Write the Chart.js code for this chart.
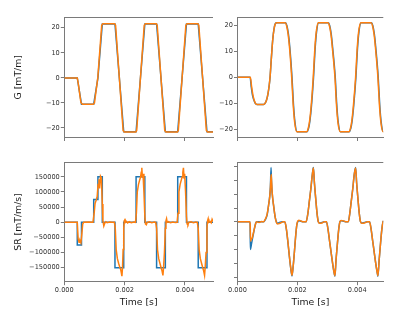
<!DOCTYPE html>
<html><head><meta charset="utf-8">
<script src="https://cdn.jsdelivr.net/npm/chart.js@4.4.1/dist/chart.umd.min.js"></script>
<style>
html,body{margin:0;padding:0;background:#fff;}
body{width:400px;height:317px;position:relative;overflow:hidden;}
canvas{position:absolute;left:0;top:0;}
</style></head>
<body>
<canvas id="tl" width="400" height="317"></canvas>
<canvas id="tr" width="400" height="317"></canvas>
<canvas id="bl" width="400" height="317"></canvas>
<canvas id="br" width="400" height="317"></canvas>
<script>
// ---------- tick labels ----------
const timeTicks = [0, 0.002, 0.004];
const gTicks = [-20, -10, 0, 10, 20];
const srTicksLeft = [-150000, -100000, -50000, 0, 50000, 100000, 150000];
const srTicksRight = [-200000, -150000, -100000, -50000, 0, 50000, 100000, 150000, 200000];

// ---------- top-left: G, trapezoid ----------
const tGL_blue = [0, 0.00043, 0.00057, 0.000975, 0.001115, 0.00126, 0.00168, 0.00197, 0.00238, 0.00267, 0.00306, 0.00335, 0.00376, 0.00405, 0.00444, 0.00473, 0.00495];
const gL_blue = [0, 0, -10.5, -10.5, 0, 21.5, 21.5, -21.5, -21.5, 21.5, 21.5, -21.5, -21.5, 21.5, 21.5, -21.5, -21.5];
const tGL_orange = [0, 0.00043, 0.00046, 0.00055, 0.00060, 0.00096, 0.00100, 0.00111, 0.00124, 0.00128, 0.00167, 0.00170, 0.00195, 0.00199, 0.00237, 0.00240, 0.00265, 0.00269, 0.00305, 0.00308, 0.00333, 0.00337, 0.00375, 0.00378, 0.00403, 0.00407, 0.00443, 0.00446, 0.00471, 0.00475, 0.00495];
const gL_orange = [0, 0, -2, -9.8, -10.5, -10.5, -10, 0, 21, 21.6, 21.6, 21, -21, -21.6, -21.6, -21, 21, 21.6, 21.6, 21, -21, -21.6, -21.6, -21, 21, 21.6, 21.6, 21, -21, -21.6, -21.6];

// ---------- bottom-left: SR, steps ----------
const tSRL_blue = [0, 0.00043, 0.00043, 0.00057, 0.00057, 0.000975, 0.000975, 0.001115, 0.001115, 0.00126, 0.00126, 0.00168, 0.00168, 0.00197, 0.00197, 0.00238, 0.00238, 0.00267, 0.00267, 0.00306, 0.00306, 0.00335, 0.00335, 0.00376, 0.00376, 0.00405, 0.00405, 0.00444, 0.00444, 0.00473, 0.00473, 0.00495];
const srL_blue = [0, 0, -75000, -75000, 0, 0, 75000, 75000, 150000, 150000, 0, 0, -150000, -150000, 0, 0, 150000, 150000, 0, 0, -150000, -150000, 0, 0, 150000, 150000, 0, 0, -150000, -150000, 0, 0];
const tSRL_orange = [0, 0.00030, 0.00043, 0.00046, 0.00049, 0.00052, 0.00055, 0.00058, 0.00061, 0.00064, 0.00080, 0.00095, 0.00099, 0.00102, 0.00106, 0.00109, 0.00112, 0.00115, 0.00117, 0.00120, 0.00123, 0.00126, 0.00128, 0.00131, 0.00134, 0.00138, 0.00142, 0.00150, 0.00160, 0.00166, 0.00169, 0.00172, 0.00176, 0.00180, 0.00184, 0.00187, 0.00189, 0.00191, 0.00193, 0.00195, 0.00197, 0.00199, 0.00201, 0.00203, 0.00206, 0.00210, 0.00215, 0.00222, 0.00230, 0.00236, 0.00239, 0.00242, 0.00246, 0.00250, 0.00253, 0.00255, 0.00257, 0.00259, 0.00261, 0.00264, 0.00267, 0.00269, 0.00272, 0.00275, 0.00282, 0.00290, 0.00298, 0.00303, 0.00306, 0.00309, 0.00313, 0.00317, 0.00321, 0.00324, 0.00327, 0.00329, 0.00332, 0.00335, 0.00337, 0.00339, 0.00341, 0.00345, 0.00352, 0.00360, 0.00368, 0.00374, 0.00377, 0.00380, 0.00384, 0.00388, 0.00391, 0.00393, 0.00395, 0.00397, 0.00399, 0.00402, 0.00405, 0.00407, 0.00410, 0.00413, 0.00420, 0.00428, 0.00436, 0.00441, 0.00444, 0.00447, 0.00451, 0.00455, 0.00459, 0.00462, 0.00465, 0.00467, 0.00470, 0.00473, 0.00475, 0.00477, 0.00479, 0.00483, 0.00487, 0.00490, 0.00493, 0.00496];
const srL_orange = [0, 0, 0, -55000, -66000, -61000, -68000, -40000, -6000, 0, 1000, 0, 30000, 62000, 74000, 85000, 125000, 142000, 112000, 152000, 146000, 60000, 5000, -12000, -3000, 2000, -1000, 1000, 0, 0, -20000, -90000, -120000, -135000, -148000, -156000, -166000, -178000, -150000, -90000, -20000, 5000, 12000, 0, 3000, -2000, 2000, -1000, 1000, 0, 30000, 100000, 125000, 140000, 150000, 165000, 180000, 146000, 160000, 100000, 20000, -5000, -8000, 0, 2000, -1000, 1000, 0, -20000, -90000, -120000, -135000, -150000, -160000, -175000, -150000, -100000, -20000, 5000, 12000, 0, 2000, -1000, 1000, -1000, 0, 30000, 100000, 125000, 140000, 150000, 165000, 180000, 146000, 160000, 100000, 20000, -5000, -8000, 0, 2000, -1000, 1000, 0, -20000, -90000, -120000, -135000, -150000, -160000, -175000, -150000, -100000, -20000, 5000, 12000, 0, 3000, -2000, 10000, 3000, 0];

// ---------- top-right: G, smooth ----------
const tGR_orange = [0, 0.00038, 0.00043, 0.00047, 0.00051, 0.00055, 0.00060, 0.00065, 0.00087, 0.00092, 0.00097, 0.00102, 0.00106, 0.00109, 0.00112, 0.00115, 0.00118, 0.00122, 0.00126, 0.00131, 0.00159, 0.00164, 0.00169, 0.00174, 0.00181, 0.00186, 0.00191, 0.00198, 0.00231, 0.00236, 0.00241, 0.00246, 0.00253, 0.00258, 0.00263, 0.00270, 0.00302, 0.00307, 0.00312, 0.00317, 0.003255, 0.003305, 0.003355, 0.00343, 0.00372, 0.00377, 0.00382, 0.00387, 0.003945, 0.003995, 0.004045, 0.00412, 0.00446, 0.00451, 0.00456, 0.00461, 0.00469, 0.00474, 0.00479, 0.00486, 0.00488];
const gR_orange = [0, 0, 0, -3.5, -6.5, -8.6, -10.1, -10.5, -10.5, -10.1, -8.8, -6.2, -3, 0.5, 5.5, 10.5, 14.8, 18.6, 20.5, 21, 21, 19.9, 16.7, 11.2, 0, -10.5, -17.4, -21, -21, -19.9, -16.7, -11.2, 0, 10.5, 17.4, 21, 21, 19.9, 16.7, 11.2, 0, -10.5, -17.4, -21, -21, -19.9, -16.7, -11.2, 0, 10.5, 17.4, 21, 21, 19.9, 16.7, 11.2, 0, -10.5, -17.4, -21, -21];
const tGR_blue = [0, 0.00038, 0.00042, 0.00046, 0.00050, 0.00055, 0.00060, 0.00065, 0.00087, 0.00092, 0.00097, 0.00102, 0.00106, 0.00109, 0.00112, 0.00115, 0.00118, 0.00122, 0.00126, 0.00131, 0.00160, 0.00165, 0.00170, 0.00175, 0.00182, 0.00187, 0.00192, 0.00199, 0.00232, 0.00237, 0.00242, 0.00247, 0.00254, 0.00259, 0.00264, 0.00271, 0.00303, 0.00308, 0.00313, 0.00318, 0.003265, 0.003315, 0.003365, 0.00344, 0.00373, 0.00378, 0.00383, 0.00388, 0.003955, 0.004005, 0.004055, 0.00413, 0.00447, 0.00452, 0.00457, 0.00462, 0.00470, 0.00475, 0.00480, 0.00487, 0.00488];
const gR_blue = [0, 0, 0, -3.8, -6.9, -8.9, -10.2, -10.5, -10.5, -10.1, -8.8, -6.3, -3.1, 0.3, 5.5, 10.6, 14.9, 18.7, 20.6, 21, 21, 19.9, 16.7, 11.2, 0, -10.5, -17.4, -21, -21, -19.9, -16.7, -11.2, 0, 10.5, 17.4, 21, 21, 19.9, 16.7, 11.2, 0, -10.5, -17.4, -21, -21, -19.9, -16.7, -11.2, 0, 10.5, 17.4, 21, 21, 19.9, 16.7, 11.2, 0, -10.5, -17.4, -21, -21];

// ---------- bottom-right: SR, smooth ----------
const tSRR_blue = [0, 0.00040, 0.00042, 0.00043, 0.00047, 0.00052, 0.00057, 0.00061, 0.00064, 0.00087, 0.00093, 0.00099, 0.00104, 0.00108, 0.00110, 0.00112, 0.001135, 0.001155, 0.00121, 0.00126, 0.00130, 0.00134, 0.00140, 0.00150, 0.00158, 0.00163, 0.00168, 0.00173, 0.00178, 0.00182, 0.00186, 0.00190, 0.00194, 0.00198, 0.00201, 0.00205, 0.00212, 0.00220, 0.00229, 0.00235, 0.00240, 0.00245, 0.00250, 0.002535, 0.00257, 0.00262, 0.00266, 0.00270, 0.00274, 0.00282, 0.00290, 0.00297, 0.00302, 0.00307, 0.00312, 0.00317, 0.00322, 0.003255, 0.00329, 0.00334, 0.00338, 0.00342, 0.00346, 0.00355, 0.00363, 0.00370, 0.00375, 0.00380, 0.00385, 0.00390, 0.003945, 0.00398, 0.00403, 0.00407, 0.00411, 0.00415, 0.00424, 0.00434, 0.00441, 0.00446, 0.00451, 0.00456, 0.00461, 0.00466, 0.00469, 0.00473, 0.00478, 0.00482, 0.00486, 0.00488];
const srR_blue = [0, 0, 0, -100000, -78000, -50000, -22000, -4000, 0, 0, 8000, 25000, 62000, 97000, 130000, 197000, 150000, 108000, 55000, 16000, 0, -5000, -2000, 0, 0, -25000, -70000, -123000, -170000, -196000, -160000, -110000, -55000, -12000, 0, 4000, 2000, 0, 0, 30000, 75000, 120000, 172000, 197000, 140000, 75000, 28000, 0, -4000, -2000, 0, 0, -25000, -65000, -105000, -145000, -180000, -197000, -140000, -75000, -28000, 0, 4000, 2000, 0, 0, 30000, 75000, 120000, 172000, 197000, 140000, 75000, 28000, 0, -4000, -2000, 0, 0, -25000, -65000, -105000, -145000, -180000, -197000, -140000, -75000, -28000, 0, 3000];
const tSRR_orange = [0, 0.00040, 0.00042, 0.00044, 0.00046, 0.00048, 0.00052, 0.00057, 0.00061, 0.00064, 0.00072, 0.00080, 0.00087, 0.00093, 0.00099, 0.00104, 0.00108, 0.00110, 0.001125, 0.00114, 0.00116, 0.00121, 0.00126, 0.00130, 0.00134, 0.00140, 0.00146, 0.00152, 0.00158, 0.00163, 0.00168, 0.00173, 0.00178, 0.00182, 0.00186, 0.00190, 0.00194, 0.00198, 0.00201, 0.00205, 0.00212, 0.00220, 0.00229, 0.00235, 0.00240, 0.00245, 0.00250, 0.002535, 0.00257, 0.00262, 0.00266, 0.00270, 0.00274, 0.00282, 0.00290, 0.00297, 0.00302, 0.00307, 0.00312, 0.00317, 0.00322, 0.003255, 0.00329, 0.00334, 0.00338, 0.00342, 0.00346, 0.00355, 0.00363, 0.00370, 0.00375, 0.00380, 0.00385, 0.00390, 0.003945, 0.00398, 0.00403, 0.00407, 0.00411, 0.00415, 0.00424, 0.00434, 0.00441, 0.00446, 0.00451, 0.00456, 0.00461, 0.00466, 0.00469, 0.00473, 0.00478, 0.00482, 0.00486, 0.00488];
const srR_orange = [0, 0, -5000, -70000, -60000, -62000, -45000, -22000, -5000, 0, -2000, 1000, 0, 10000, 28000, 62000, 95000, 125000, 172000, 145000, 105000, 55000, 16000, -2000, -8000, -6000, -3000, 0, 0, -24000, -68000, -121000, -168000, -194000, -160000, -110000, -55000, -12000, 2000, 6000, 3000, 0, 0, 30000, 75000, 120000, 172000, 195000, 140000, 75000, 28000, 0, -5000, -4000, 0, 0, -25000, -65000, -105000, -145000, -180000, -195000, -140000, -75000, -28000, 0, 5000, 3000, 0, 0, 30000, 75000, 120000, 172000, 195000, 140000, 75000, 28000, 0, -5000, -4000, 0, 0, -25000, -65000, -105000, -145000, -180000, -195000, -140000, -75000, -28000, 0, 4000];

// ---------- drawing ----------
const BLUE = '#1f77b4', ORANGE = '#ff7f0e', SPINE = '#7a7a7a', TICKTXT = '#333', TITLETXT = '#1a1a1a';
const FONT = '"DejaVu Sans", sans-serif';
const fmtMinus = v => (v < 0 ? '\u2212' : '') + Math.abs(v);

const topSpine = {
  id: 'topSpine',
  afterDraw(c) {
    const a = c.chartArea, g = c.ctx;
    g.save(); g.strokeStyle = SPINE; g.lineWidth = 1;
    g.beginPath(); g.moveTo(a.left, Math.round(a.top) + 0.5); g.lineTo(a.right, Math.round(a.top) + 0.5); g.stroke();
    g.restore();
  }
};

function pts(t, v) { return t.map((x, i) => ({x: x, y: v[i]})); }

function panel(id, o) {
  new Chart(document.getElementById(id), {
    type: 'line',
    data: {
      datasets: o.series.map((s, i) => ({
        data: pts(s.t, s.v), borderColor: s.color, borderWidth: 1.5, pointRadius: 0,
        fill: false, tension: 0, cubicInterpolationMode: s.smooth ? 'monotone' : 'default',
        order: o.series.length - i
      }))
    },
    options: {
      responsive: false, devicePixelRatio: 1, animation: false, events: [],
      layout: {padding: o.pad},
      plugins: {legend: {display: false}, tooltip: {enabled: false}},
      scales: {
        x: {
          type: 'linear', min: o.xMin, max: o.xMax,
          afterFit: s => { s.height = o.xH; },
          afterBuildTicks: s => { s.ticks = timeTicks.map(v => ({value: v})); },
          grid: {drawOnChartArea: false, drawTicks: true, tickLength: 3.5, color: SPINE, tickColor: SPINE},
          border: {display: true, color: SPINE, width: 1},
          ticks: {display: o.xLabels, padding: 1, color: TICKTXT, maxRotation: 0, autoSkip: false,
                  font: {family: FONT, size: 6.6}, callback: v => v.toFixed(3)},
          title: {display: !!o.xTitle, text: o.xTitle || '', color: TITLETXT,
                  font: {family: FONT, size: 9.3}, padding: {top: 0, bottom: 9.1}}
        },
        y: {
          type: 'linear', min: o.yMin, max: o.yMax,
          afterFit: s => { s.width = o.yW; },
          afterBuildTicks: s => { s.ticks = o.yTicks.map(v => ({value: v})); },
          grid: {drawOnChartArea: false, drawTicks: true, tickLength: 3.5, color: SPINE, tickColor: SPINE},
          border: {display: true, color: SPINE, width: 1},
          ticks: {display: o.yLabels, padding: 1, color: TICKTXT, autoSkip: false,
                  font: {family: FONT, size: 6.6}, callback: v => fmtMinus(v)},
          title: {display: !!o.yTitle, text: o.yTitle || '', color: TITLETXT,
                  font: {family: FONT, size: 9.3}, padding: {top: 13.4, bottom: 0}}
        }
      }
    },
    plugins: [topSpine]
  });
}

panel('tl', {
  pad: {left: 0, top: 17, right: 187, bottom: 169.5}, yW: 64.3, xH: 10,
  xMin: 0, xMax: 0.00493, yMin: -23.8, yMax: 24.3, yTicks: gTicks,
  xLabels: false, yLabels: true, yTitle: 'G [mT/m]',
  series: [{t: tGL_blue, v: gL_blue, color: BLUE}, {t: tGL_orange, v: gL_orange, color: ORANGE}]
});
panel('tr', {
  pad: {left: 219.5, top: 17, right: 16.7, bottom: 169.5}, yW: 18, xH: 10,
  xMin: 0, xMax: 0.00487, yMin: -23.25, yMax: 23.25, yTicks: gTicks,
  xLabels: false, yLabels: true,
  series: [{t: tGR_blue, v: gR_blue, color: BLUE, smooth: true}, {t: tGR_orange, v: gR_orange, color: ORANGE, smooth: true}]
});
panel('bl', {
  pad: {left: 0, top: 162.3, right: 187, bottom: 0}, yW: 64.3, xH: 35.3,
  xMin: 0, xMax: 0.00493, yMin: -196000, yMax: 198000, yTicks: srTicksLeft,
  xLabels: true, yLabels: true, yTitle: 'SR [mT/m/s]', xTitle: 'Time [s]',
  series: [{t: tSRL_blue, v: srL_blue, color: BLUE}, {t: tSRL_orange, v: srL_orange, color: ORANGE}]
});
panel('br', {
  pad: {left: 219.5, top: 162, right: 16.7, bottom: 0}, yW: 18, xH: 35.3,
  xMin: 0, xMax: 0.00487, yMin: -217000, yMax: 217000, yTicks: srTicksRight,
  xLabels: true, yLabels: false, xTitle: 'Time [s]',
  series: [{t: tSRR_blue, v: srR_blue, color: BLUE, smooth: true}, {t: tSRR_orange, v: srR_orange, color: ORANGE, smooth: true}]
});
</script>
</body></html>
